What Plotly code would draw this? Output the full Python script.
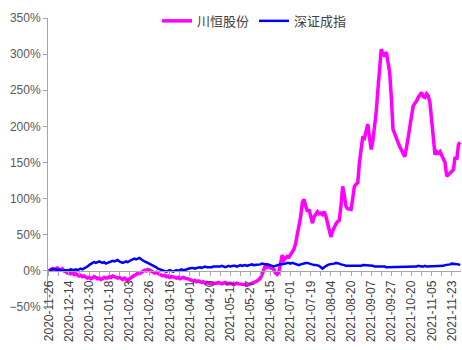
import pandas as pd
import plotly.graph_objects as go

# Trading-day calendar (Shenzhen exchange) 2020-11-26 .. 2021-11-30
holidays = ["2021-01-01", "2021-02-11", "2021-02-12", "2021-02-15", "2021-02-16",
            "2021-02-17", "2021-04-05", "2021-05-03", "2021-05-04", "2021-05-05",
            "2021-06-14", "2021-09-20", "2021-09-21", "2021-10-01", "2021-10-04",
            "2021-10-05", "2021-10-06", "2021-10-07"]
dates = [d.strftime("%Y-%m-%d") for d in pd.bdate_range("2020-11-26", "2021-11-30")
         if d.strftime("%Y-%m-%d") not in holidays]

tick_labels = ["2020-11-26", "2020-12-14", "2020-12-30", "2021-01-18", "2021-02-03",
               "2021-02-26", "2021-03-16", "2021-04-01", "2021-04-20", "2021-05-11",
               "2021-05-27", "2021-06-15", "2021-07-01", "2021-07-19", "2021-08-04",
               "2021-08-20", "2021-09-07", "2021-09-27", "2021-10-20", "2021-11-05",
               "2021-11-23"]

chuanheng = [
    0, 2, 3, 1, 3, 4, 2, 1, 3, 0,
    -1, -3, -2, -4, -3, -5, -4, -5, -7, -6,
    -8, -7, -9, -10, -9, -11, -10, -8, -9, -11,
    -10, -12, -11, -9, -10, -10, -8, -9, -7, -8,
    -8, -10, -9, -11, -12, -10, -12, -13, -11, -9,
    -7, -6, -5, -3, -4, -2, -1, 1, 0, 2,
    1, 0, -1, -3, -2, -4, -5, -6, -7, -6,
    -8, -7, -9, -8, -8, -9, -10, -9, -11, -10,
    -9, -10, -10, -11, -12, -13, -14, -13, -15, -14,
    -15, -16, -15, -17, -16, -17, -18, -17, -17, -18,
    -17, -16, -17, -18, -17, -16, -17, -18, -17, -18,
    -19, -18, -17, -18, -18, -19, -18, -19, -20, -19,
    -19, -18, -17, -15, -14, -12, -10, -5, 3, 8,
    5, 7, 4, 4, 2, -3, -5, -2, 10, 22,
    15, 18, 20, 19, 23, 26, 30, 38, 50, 62,
    75, 95, 99, 90, 82, 85, 75, 66, 75, 78,
    82, 79, 80, 78, 82, 76, 66, 58, 47, 55,
    61, 65, 68, 70, 90, 117, 105, 89, 86, 85,
    85, 100, 117, 120, 122, 150, 170, 186, 184, 192,
    203, 185, 168, 180, 196, 220, 251, 280, 307, 300,
    297, 303, 290, 275, 240, 196, 190, 182, 178, 172,
    168, 162, 158, 170, 185, 196, 210, 228, 232, 235,
    240, 244, 247, 241, 240, 245, 242, 233, 205, 180,
    161, 165, 163, 165, 160, 154, 150, 131, 133, 136,
    138, 140, 158, 154, 175, 178,
]

szci = [
    0, 1, 2, 3, 2, 1, 2, 1, 0, 1,
    1, 0, 1, 2, 1, 1, 2, 1, 2, 3,
    2, 3, 4, 6, 8, 10, 11, 12, 11, 12,
    13, 12, 11, 12, 10, 11, 12, 13, 14, 13,
    14, 15, 13, 12, 11, 12, 13, 12, 14, 15,
    16, 17, 16, 17, 18, 16, 14, 13, 12, 11,
    10, 8, 7, 6, 5, 3, 2, 1, 0, 0,
    -1, 0, 1, 0, -1, 0, 1, 0, 1, 2,
    1, 1, 2, 3, 4, 4, 4, 3, 4, 5,
    5, 4, 5, 6, 5, 5, 4, 5, 6, 6,
    5, 6, 6, 7, 6, 5, 6, 7, 6, 7,
    7, 7, 6, 7, 8, 7, 8, 8, 7, 8,
    8, 9, 8, 8, 9, 8, 9, 10, 9, 9,
    9, 8, 7, 7, 6, 7, 8, 8, 9, 9,
    10, 10, 11, 11, 10, 11, 10, 9, 8, 8,
    9, 10, 10, 11, 11, 10, 9, 9, 8, 8,
    8, 7, 5, 3, 5, 7, 8, 9, 9, 10,
    10, 11, 11, 10, 9, 9, 8, 7, 7, 6,
    7, 7, 6, 6, 6, 7, 7, 8, 8, 7,
    8, 8, 7, 7, 6, 6, 6, 7, 6, 6,
    6, 5, 5, 6, 6, 6, 5, 6, 6, 6,
    6, 5, 6, 6, 6, 5, 6, 6, 6, 6,
    7, 6, 6, 6, 7, 6, 6, 7, 6, 6,
    6, 7, 7, 6, 7, 7, 8, 8, 9, 9,
    10, 10, 9, 9, 9, 8,
]

n = min(len(dates), len(chuanheng), len(szci))
idx = list(range(n))

fig = go.Figure()
fig.add_trace(go.Scatter(x=idx, y=chuanheng[:n], mode="lines", name="川恒股份",
                         line=dict(color="#FF00FF", width=3.5),
                         customdata=dates[:n], hovertemplate="%{customdata}: %{y}%"))
fig.add_trace(go.Scatter(x=idx, y=szci[:n], mode="lines", name="深证成指",
                         line=dict(color="#0000FF", width=2.5),
                         customdata=dates[:n], hovertemplate="%{customdata}: %{y}%"))

font_family = "Liberation Sans, Arial, Noto Sans CJK SC, sans-serif"
fig.update_layout(
    width=462, height=350,
    margin=dict(l=48, r=1, t=18, b=43),
    paper_bgcolor="white", plot_bgcolor="white",
    font=dict(family=font_family, color="#595959", size=12),
    showlegend=True,
    legend=dict(orientation="h", x=0.5, xanchor="center", y=0.99, yanchor="middle",
                font=dict(size=13, color="#404040",
                          family="Noto Sans CJK SC, Liberation Sans, sans-serif"),
                bgcolor="rgba(0,0,0,0)", itemwidth=30),
    xaxis=dict(
        range=[-0.5, 245.5],
        tickmode="array",
        tickvals=[i * 12 for i in range(len(tick_labels))],
        ticktext=tick_labels,
        tickangle=-90,
        tickfont=dict(size=12, color="#404040"),
        showgrid=False, zeroline=False,
        showline=True, linecolor="#A6A6A6", linewidth=1,
        ticks="outside", ticklen=4, tickcolor="#A6A6A6",
        minor=dict(dtick=6, tick0=0, ticks="outside", ticklen=4, tickcolor="#A6A6A6"),
        anchor="free", position=0.125,
    ),
    yaxis=dict(
        range=[-50, 350], dtick=50, tick0=0,
        ticksuffix="%",
        tickfont=dict(size=12, color="#595959"),
        showgrid=False, zeroline=False,
        showline=True, linecolor="#A6A6A6", linewidth=1,
        ticks="outside", ticklen=4, tickcolor="#A6A6A6",
    ),
)

fig.write_html("out.html")
